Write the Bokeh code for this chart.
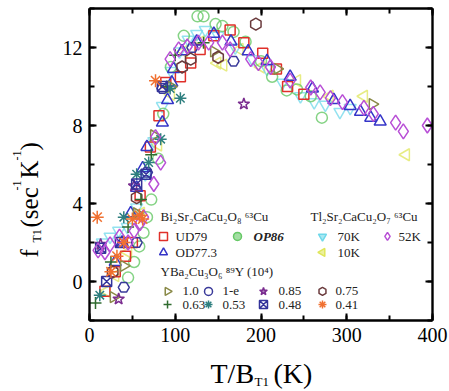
import math
from bokeh.plotting import figure
from bokeh.models import Range1d, SingleIntervalTicker, LinearAxis, Label, CustomLabelingPolicy
from bokeh.core.properties import value
from bokeh.embed import file_html
from bokeh.resources import INLINE

# ---------------- data (T/B_T1 in K, f_T1 in sec^-1 K^-1) ----------------
ud79_T = [18, 30, 42, 50, 59, 71, 81, 89, 106, 118, 129, 145, 164, 180, 202, 218, 231, 250]
ud79_f = [-0.5, 0.5, 1.3, 2.0, 4.4, 6.9, 8.5, 10.2, 10.5, 11.2, 11.9, 12.6, 12.9, 12.25, 11.7, 10.9, 10.0, 9.6]

op86_T = [45, 52, 58, 63, 67, 72, 80, 86, 95, 110, 126, 133, 147, 155, 168, 182, 200, 213, 230, 242, 258, 271]
op86_f = [0.2, 1.0, 1.8, 2.5, 3.3, 4.2, 6.3, 8.6, 11.0, 12.6, 13.6, 13.6, 13.2, 13.1, 12.8, 12.3, 11.3, 10.5, 9.8, 9.85, 9.5, 8.4]

od77_T = [30, 38, 48, 55, 62, 67, 85, 91, 96, 98, 108, 125, 145, 165, 185, 207, 234, 260, 285, 304, 316, 328, 339]
od77_f = [1.0, 2.0, 3.5, 4.8, 5.8, 6.9, 8.15, 9.3, 10.2, 10.9, 11.8, 12.3, 12.7, 12.3, 11.8, 11.3, 10.5, 9.9, 9.3, 9.0, 8.7, 8.4, 8.2]

tl70_T = [15, 24, 34, 44, 55, 65, 75, 85, 95, 105, 115, 125, 135, 150, 170, 190, 207, 225, 246, 262, 275, 292, 304]
tl70_f = [2.0, 2.3, 2.6, 2.8, 3.8, 5.5, 7.2, 9.0, 10.8, 11.8, 12.4, 12.7, 12.9, 12.6, 12.0, 11.4, 10.9, 10.2, 9.5, 9.2, 9.07, 8.7, 8.9]

tl52_T = [10, 18, 24, 35, 45, 52, 59, 63, 75, 77, 83, 94, 104, 114, 127, 139, 155, 164, 188, 197, 211, 234, 258, 269, 281, 295, 320, 331, 357, 366, 394]
tl52_f = [1.6, 1.5, 1.9, 2.3, 2.0, 2.6, 3.0, 3.3, 5.0, 7.4, 6.1, 11.4, 11.9, 12.05, 12.25, 12.25, 12.25, 11.9, 11.4, 11.2, 11.0, 10.3, 9.95, 9.7, 9.4, 9.2, 8.9, 8.6, 8.15, 7.7, 8.0]

tl10_T = [20, 30, 45, 60, 80, 95, 110, 130, 149, 156, 175, 200, 242, 280, 320, 369]
tl10_f = [-0.5, 0.3, 1.5, 3.5, 7.0, 9.6, 11.8, 12.3, 11.2, 11.1, 11.9, 11.0, 10.3, 9.5, 9.5, 6.5]

y100_T = [28, 40, 55, 75, 95, 145, 219, 330]
y100_f = [-0.8, 0.8, 3.5, 7.5, 10.0, 11.8, 10.9, 9.1]

y1e_T = [40, 55, 67, 85, 120, 168]
y1e_f = [-0.3, 2.0, 5.6, 9.9, 12.0, 11.3]

y085_T = [13, 34, 52, 180]
y085_f = [1.9, -0.9, 4.9, 9.1]

y075_T = [27, 55, 108, 118, 150, 194]
y075_f = [0.5, 4.3, 11.0, 11.4, 11.5, 13.2]

y063_T = [7, 25, 45, 60, 72, 90, 100, 133]
y063_f = [-1.1, 1.0, 2.8, 4.2, 6.5, 10.0, 11.6, 12.25]

y053_T = [12, 40, 55, 69, 83, 94, 106]
y053_f = [-0.7, 3.3, 5.5, 6.1, 7.3, 9.9, 9.4]

y048_T = [20, 13, 36, 55, 66, 85]
y048_f = [0.0, 1.7, 2.0, 5.0, 5.5, 10.0]

y041_T = [9, 25, 32, 40, 50, 58, 62, 77]
y041_f = [3.3, 0.5, 1.3, 2.0, 3.2, 3.4, 3.2, 10.3]

x_lim = [0, 400]
y_lim = [-2, 14]

# ---------------- figure: frame spans the whole canvas, axes fixed inside ----------------
W, H = 449, 391
PL, PR, PT, PB = 89, 17, 8, 71          # pixel room around the plotting box
sx = (W - PL - PR) / (x_lim[1] - x_lim[0])
sy = (H - PT - PB) / (y_lim[1] - y_lim[0])
p = figure(width=W, height=H, output_backend="svg", toolbar_location=None,
           x_range=Range1d(x_lim[0] - PL / sx, x_lim[1] + PR / sx),
           y_range=Range1d(y_lim[0] - PB / sy, y_lim[1] + PT / sy),
           min_border=0, x_axis_location=None, y_axis_location=None)
p.grid.visible = False
p.outline_line_color = None
p.background_fill_color = "white"
p.border_fill_color = "white"

FONT = "Liberation Serif"

def make_axis(dim, side, loc, labels):
    ax = LinearAxis(fixed_location=loc)
    if dim == "x":
        ax.ticker = SingleIntervalTicker(interval=100, num_minor_ticks=2)
        ax.bounds = (x_lim[0], x_lim[1])
    else:
        ax.ticker = SingleIntervalTicker(interval=4, num_minor_ticks=2)
        ax.bounds = (y_lim[0], y_lim[1])
    ax.axis_line_width = 2.4
    ax.axis_line_color = "black"
    ax.major_tick_in = 7
    ax.major_tick_out = 0
    ax.minor_tick_in = 5
    ax.minor_tick_out = 0
    ax.major_tick_line_width = 2
    ax.minor_tick_line_width = 2
    if labels:
        ax.major_label_text_font = FONT
        ax.major_label_text_font_size = "20px"
        ax.major_label_text_color = "black"
        ax.major_label_standoff = 7
    else:
        ax.major_label_policy = CustomLabelingPolicy(code="return []")
        ax.major_label_text_font_size = "0px"
        ax.major_label_standoff = 0
    p.add_layout(ax, side)
    return ax

make_axis("x", "below", y_lim[0], True)
make_axis("y", "left", x_lim[0], True)
make_axis("x", "above", y_lim[1], False)
make_axis("y", "right", x_lim[1], False)

# ---------------- series ----------------
series = [
    (tl10_T, tl10_f, "triangle", "#dfe65a", math.pi / 2, 12, 0.75),
    (tl70_T, tl70_f, "inverted_triangle", "#6fd8ea", 0, 12, 0.75),
    (op86_T, op86_f, "circle", "#66c866", 0, 11, 0.8),
    (ud79_T, ud79_f, "square", "#e0302a", 0, 10, 1.0),
    (od77_T, od77_f, "triangle", "#3535c8", 0, 12, 1.0),
    (y100_T, y100_f, "triangle", "#8a8a48", -math.pi / 2, 11, 1.0),
    (y1e_T, y1e_f, "hex", "#3a3a9a", 0, 11, 1.0),
    (y085_T, y085_f, "star", "#7a2d8f", 0, 12, 1.0),
    (y075_T, y075_f, "hex", "#6a3a3c", math.pi / 2, 12, 1.0),
    (y063_T, y063_f, "cross", "#2f6b2f", 0, 12, 1.0),
    (y053_T, y053_f, "asterisk", "#2e7f7f", 0, 12, 1.0),
    (y048_T, y048_f, "square_x", "#33339a", 0, 10, 1.0),
    (tl52_T, tl52_f, "diamond", "#b84fd6", 0, 15, 1.0),
    (y041_T, y041_f, "asterisk", "#f07030", 0, 13, 1.0),
]

for T, f, mk, col, ang, sz, al in series:
    p.scatter(T, f, marker=mk, size=sz, angle=ang, fill_color=None,
              line_color=col, line_width=1.5, line_alpha=al)

# ---------------- legend (drawn in data coordinates) ----------------
lg_font = value(FONT)
hdr_x = [82.8, 257.7, 82.8]
hdr_y = [3.33, 3.33, 0.51]
hdr_t = ["Bi\u2082Sr\u2082CaCu\u2082O\u2088 \u2076\u00b3Cu",
         "Tl\u2082Sr\u2082CaCu\u2082O\u2087 \u2076\u00b3Cu",
         "YBa\u2082Cu\u2083O\u2086 \u2078\u2079Y (10\u2074)"]
p.text(hdr_x, hdr_y, text=hdr_t, text_font=lg_font, text_font_size=value("13px"),
       text_baseline="middle", text_align="left", text_color="#222222")

leg_items = [
    # marker x, y, text x, text, marker, color, angle, filled
    (86.3, 2.31, 100.3, "UD79", "square", "#e0302a", 0, False),
    (86.3, 1.49, 100.3, "OD77.3", "triangle", "#3535c8", 0, False),
    (172.6, 2.31, None, None, "circle", "#66c866", 0, True),
    (271.7, 2.31, 289.2, "70K", "inverted_triangle", "#6fd8ea", 0, True),
    (347.5, 2.31, 360.3, "52K", "diamond", "#b84fd6", 0, False),
    (271.7, 1.49, 289.2, "10K", "triangle", "#dfe65a", math.pi / 2, True),
    (91.0, -0.51, 108.5, "1.0", "triangle", "#8a8a48", -math.pi / 2, False),
    (138.8, -0.51, 155.1, "1-e", "circle", "#3a3a9a", 0, False),
    (202.9, -0.51, 220.4, "0.85", "star", "#7a2d8f", 0, True),
    (271.7, -0.51, 286.9, "0.75", "hex", "#6a3a3c", math.pi / 2, False),
    (91.0, -1.18, 108.5, "0.63", "cross", "#2f6b2f", 0, False),
    (138.8, -1.18, 155.1, "0.53", "asterisk", "#2e7f7f", 0, False),
    (202.9, -1.18, 220.4, "0.48", "square_x", "#33339a", 0, False),
    (271.7, -1.18, 286.9, "0.41", "asterisk", "#f07030", 0, False),
]
for mx, my, tx, txt, mk, col, ang, filled in leg_items:
    p.scatter([mx], [my], marker=mk, size=8, angle=ang, line_color=col, line_width=1.5,
              fill_color=col if filled else None, fill_alpha=0.6)
    if txt:
        p.text([tx], [my], text=[txt], text_font=lg_font, text_font_size=value("13px"),
               text_baseline="middle", text_align="left", text_color="#222222")

p.text([191.3], [2.31], text=["OP86"], text_font=lg_font, text_font_size=value("13px"),
       text_font_style="bold italic", text_baseline="middle", text_align="left",
       text_color="#222222")

# ---------------- axis titles (pieces for sub/superscripts) ----------------
def lab(cx, cy, t, size, angle=0.0):
    # cx, cy: pixel position on the canvas (from top-left) of the text anchor
    p.add_layout(Label(x=cx, y=H - cy, x_units="screen", y_units="screen", text=t,
                       text_font=FONT, text_font_size=size, angle=angle,
                       text_align="left", text_baseline="alphabetic", text_color="black"))

# x title: T/B_T1 (K)
lab(210, 373, "T/B", "28px")
lab(254, 381, "T1", "13px")
lab(273, 373, "(K)", "28px")

# y title: f_T1 (sec^-1 K^-1), rotated
r = math.pi / 2
lab(29, 257, "f", "25px", r)
lab(36, 242, "T1", "12px", r)
lab(29, 227, "(sec", "25px", r)
lab(16, 190, "-1", "12px", r)
lab(29, 178, "K", "25px", r)
lab(16, 160, "-1", "12px", r)
lab(29, 150, ")", "25px", r)

open("out.html", "w").write(file_html(p, INLINE))
